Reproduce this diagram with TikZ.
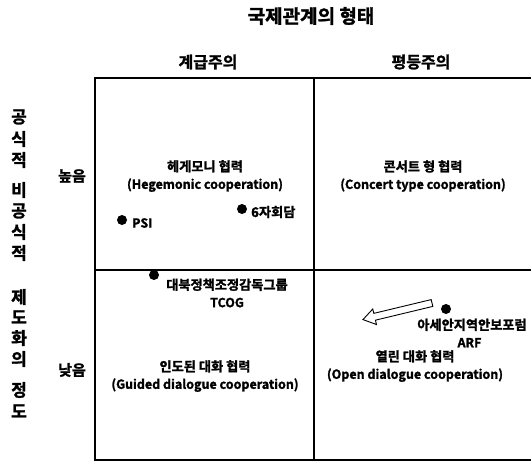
\documentclass[tikz,border=0pt]{standalone}
\usepackage{fontspec}
\setmainfont{Noto Sans CJK KR Bold}[FakeBold=1.6]
\newcommand{\krl}[1]{{\fontsize{13.2}{17}\selectfont #1}}
\begin{document}
\begin{tikzpicture}[x=1pt,y=-1pt,
  lbl/.style={font=\fontsize{12.5}{17.5}\selectfont, align=center, inner sep=0pt},
  hdr/.style={font=\fontsize{16}{16}\selectfont, inner sep=0pt},
  side/.style={font=\fontsize{15}{16}\selectfont, inner sep=0pt},
  vch/.style={font=\fontsize{17}{16}\selectfont, inner sep=0pt},
  dot/.style={circle, fill=black, minimum size=10pt, inner sep=0pt},
  frame/.style={line width=1.4pt}]
\useasboundingbox (0,0) rectangle (531,463);
% frame
\draw[frame] (95,78) rectangle (533,460);
\draw[frame] (314,78) -- (314,460);
\draw[frame] (95,270) -- (533,270);
% headings
\node[font=\fontsize{19}{20}\selectfont, inner sep=0pt] (title) at (311,16) {국제관계의 형태};
\node[hdr] (h1) at (208,62) {계급주의};
\node[hdr] (h2) at (421,62) {평등주의};
\node[side] (hi) at (72,176) {높음};
\node[side] (lo) at (72,370) {낮음};
% vertical label
\foreach \c/\y in {공/117,식/139,적/160,비/190,공/211,식/232,적/253,제/297,도/317,화/338,의/359,정/390,도/411}
  \node[vch] at (19,\y) {\c};
% quadrant labels
\node[lbl] (q1) at (205,176) {\krl{헤게모니 협력}\\(Hegemonic cooperation)};
\node[lbl] (q2) at (423,176) {\krl{콘서트 형 협력}\\(Concert type cooperation)};
\node[lbl] (q3) at (205,376) {\krl{인도된 대화 협력}\\(Guided dialogue cooperation)};
\node[lbl] (q4) at (415,366) {\krl{열린 대화 협력}\\(Open dialogue cooperation)};
% points
\node[dot] (psi) at (122,220) {};
\node[lbl, anchor=west] (psit) at (132,223) {PSI};
\node[dot] (six) at (242,209) {};
\node[lbl, anchor=west] (sixt) at (251,212) {\krl{6자회담}};
\node[dot] (tcog) at (154,275) {};
\node[lbl] (tcogt) at (227,293) {\krl{대북정책조정감독그룹}\\TCOG};
\node[dot] (arf) at (446,309) {};
\node[lbl] (arft) at (472,333) {\krl{아세안지역안보포럼}\\\hspace*{-0.4em}ARF};
% hollow arrow
\begin{scope}[shift={(432,303)}, rotate=-166.5]
\draw[line width=0.9pt, fill=white] (0,-3.5) -- (59,-3.5) -- (59,-8) -- (71,0) -- (59,8) -- (59,3.5) -- (0,3.5) -- cycle;
\end{scope}
\end{tikzpicture}
\end{document}
